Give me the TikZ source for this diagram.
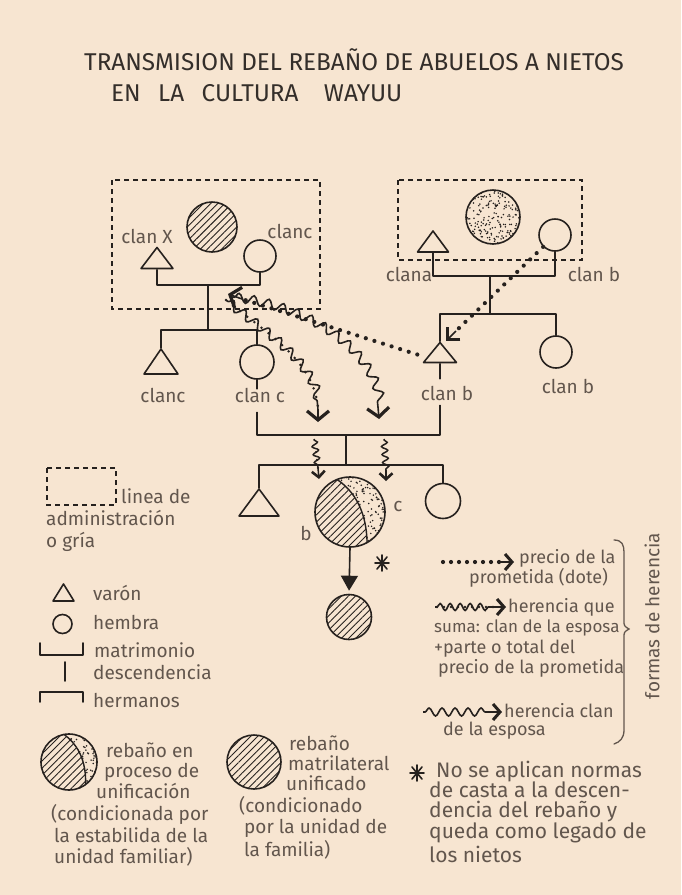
\documentclass[tikz,border=0pt]{standalone}
\usepackage{fontspec}
\setmainfont{Fira Sans}
\usetikzlibrary{arrows.meta,patterns.meta,decorations.pathmorphing,calc}
\definecolor{bg}{RGB}{247,229,209}
\definecolor{ink}{RGB}{38,33,30}
\definecolor{pencil}{RGB}{98,86,77}
\definecolor{titleink}{RGB}{52,46,42}
\newcommand\stip[4]{\foreach \k in {1,...,#4}{\fill[ink] ({#1+#3*rand},{#2+#3*rand}) circle (0.85);}}
\tikzset{
 conn/.style={draw=ink, line width=1.6pt, line join=round, line cap=round},
 fem/.style={circle, draw=ink, line width=1.6pt, inner sep=0pt, minimum size=32pt},
 male/.style={rectangle, inner sep=0pt, minimum width=34pt, minimum height=23pt,
   path picture={\draw[ink, line width=1.6pt, line join=round]
     ([shift={(1,-1)}]path picture bounding box.south west) --
     ([shift={(0,1)}]path picture bounding box.north) --
     ([shift={(-1,-1)}]path picture bounding box.south east) -- cycle;}},
 herd/.style={circle, draw=ink, line width=1.6pt, inner sep=0pt},
 hatch/.style={pattern={Lines[angle=45,distance=5pt,line width=0.9pt]}, pattern color=ink},
 lab/.style={text=pencil, font=\fontsize{19}{21}\selectfont, inner sep=1pt},
 labs/.style={text=pencil, font=\fontsize{18}{20}\selectfont, inner sep=1pt},
 labn/.style={text=pencil, font=\fontsize{21}{22}\selectfont, inner sep=1pt},
 titlef/.style={text=titleink, font=\fontsize{24.3}{28}\selectfont, inner sep=0pt},
 dotline/.style={draw=ink, line width=4.2pt, line cap=round, dash pattern=on 0pt off 9pt},
 smalldots/.style={draw=ink, line width=2.8pt, line cap=round, dash pattern=on 0pt off 9pt},
 wavy/.style={draw=ink, line width=1.6pt, decorate, decoration={snake, amplitude=4.5pt, segment length=15pt, pre length=2pt, post length=2pt}},
 wavysm/.style={draw=ink, line width=1.5pt, decorate, decoration={snake, amplitude=3pt, segment length=8pt, pre length=1pt, post length=1pt}},
 barb/.style={draw=ink, line width=1.6pt, -{Straight Barb[length=9pt, width=22pt, line width=3.2pt]}},
 barbl/.style={draw=ink, line width=1.6pt, -{Straight Barb[length=9pt, width=18pt, line width=3.2pt]}},
 sbarb/.style={draw=ink, line width=1.5pt, -{Straight Barb[length=6pt, width=13pt, line width=2.6pt]}},
 lbarb/.style={draw=ink, line width=1.5pt, -{Straight Barb[length=7pt, width=16pt, line width=3pt]}},
 admin/.style={draw=ink, line width=1.5pt, dash pattern=on 5pt off 4pt},
 astk/.pic={\draw[ink, line width=1.6pt, line cap=round] (-7,0) -- (7,0) (0,-8) -- (0,8) (-5,-6) -- (5,6) (-5,6) -- (5,-6);}
}
\begin{document}
\begin{tikzpicture}[x=1pt,y=-1pt]
\pgfmathsetseed{11}
\fill[bg] (0,0) rectangle (681,895);
\useasboundingbox (0,0) rectangle (681,895);

% title
\node[titlef, anchor=base west] (title1) at (84,70) {TRANSMISION DEL REBAÑO DE ABUELOS A NIETOS};
\node[titlef, anchor=base west] (title2) at (111,101) {EN\hspace{11pt} LA\hspace{11pt} CULTURA\hspace{19pt} WAYUU};

% administration boxes
\draw[admin] (112,180) rectangle (320,309);
\draw[admin] (398,180) rectangle (582,260);

% ---------- grandparents, left
\node[herd, hatch, minimum size=50pt] (hl) at (212,227) {};
\node[male, minimum width=34pt, minimum height=23pt] (m1) at (157,258) {};
\node[fem] (f1) at (260,256) {};
\node[lab, anchor=base] (lm1) at (147,243) {clan X};
\node[lab, anchor=base] (lf1) at (290,238) {clanc};
\coordinate (j1) at (208,285);
\coordinate (s1) at (208,330);
\draw[conn] (m1.south) |- (j1) -| (f1.south);
\draw[conn] (j1) -- (s1);
\node[male, minimum width=36pt, minimum height=27pt] (m2) at (161,361.5) {};
\node[fem, minimum size=34pt] (f2) at (257,362) {};
\draw[conn] (m2.north) |- (s1) -| (f2.north);
\node[lab, anchor=base] (lm2) at (163,402) {clanc};
\node[lab, anchor=base] (lf2) at (260,402) {clan c};

% ---------- grandparents, right
\begin{scope}
 \clip (493,217) circle (27);
 \stip{493}{217}{27}{210}
\end{scope}
\node[herd, minimum size=54pt] (hr) at (493,217) {};
\node[male, minimum width=33pt, minimum height=23pt] (m3) at (433,241.5) {};
\node[fem] (f3) at (555,235) {};
\node[lab, anchor=base] (lm3) at (409,281) {clana};
\node[lab, anchor=base] (lf3) at (594,281) {clan b};
\coordinate (j2) at (490,276);
\coordinate (s2) at (490,314);
\draw[conn] (m3.south) |- (j2) -| (f3.south);
\draw[conn] (j2) -- (s2);
\node[male, minimum width=35pt, minimum height=22pt] (m4) at (440,352.5) {};
\node[fem] (f4) at (556,352) {};
\draw[conn] (m4.north) |- (s2) -| (f4.north);
\node[lab, anchor=base] (lm4) at (447,400) {clan b};
\node[lab, anchor=base] (lf4) at (568,393) {clan b};

% ---------- parents' marriage
\coordinate (j3) at (346,435);
\draw[conn] (f2.south) -- ++(0,9);
\draw[conn] (m4.south) -- ++(0,15);
\coordinate (f2b) at ($(lf2.south -| f2.south)+(0,9)$);
\coordinate (m4b) at ($(lm4.south -| m4.south)+(0,4)$);
\draw[conn] (f2b) |- (j3) -| (m4b);
\coordinate (s3) at (346,465);
\draw[conn] (j3) -- (s3);

% ---------- grandchildren
\node[male, minimum width=42pt, minimum height=29pt] (m5) at (259,502.5) {};
\node[fem, minimum size=35pt] (f5) at (443,501) {};
\draw[conn] (m5.north) |- (s3) -| (f5.north);

% mixed herd
\begin{scope}
 \clip (350,512) circle (35);
 \fill[hatch] (333,477) .. controls (356,490) and (368,515) .. (367,548) -- (367,560) -- (300,560) -- (300,465) -- (333,465) -- cycle;
 \draw[ink, line width=1.4pt] (333,477) .. controls (356,490) and (368,515) .. (367,548);
 \clip (333,477) .. controls (356,490) and (368,515) .. (367,548) -- (367,560) -- (400,560) -- (400,465) -- (333,465) -- cycle;
 \stip{350}{512}{35}{300}
\end{scope}
\node[herd, minimum size=70pt] (hm) at (350,512) {};
\node[lab, anchor=base] (lb) at (306,540) {b};
\node[lab, anchor=base] (lc) at (398,511) {c};
\node[herd, hatch, minimum size=45pt] (hb) at (349,617) {};
\draw[conn, shorten >=3pt, -{Triangle[length=15pt, width=17pt]}] (hm.south) -- (hb.north);
\pic (a1) at (382,563) {astk};

% ---------- inheritance flows
\coordinate (w1s) at (226,300);
\coordinate (w1e) at (318,410);
\draw[wavy] (w1s) .. controls (262,330) and (316,360) .. (w1e);
\draw[smalldots] (w1s) .. controls (262,330) and (316,360) .. (w1e);
\draw[barb] (w1e) -- ++(0,12);
\coordinate (w2s) at (232,297);
\coordinate (w2e) at (378,407);
\draw[wavy] (w2s) .. controls (300,305) and (372,345) .. (w2e);
\draw[barb] (w2e) -- ++(1,12);

\coordinate (d1s) at ($(m4.west)+(-5,2)$);
\coordinate (d1e) at (242,299);
\draw[dotline] (d1s) -- (d1e);
\draw[barb] (d1e) -- (228,294);
\coordinate (d2e) at (456,331);
\draw[dotline] (f3.south west) -- (d2e);
\draw[barbl] (d2e) -- (446,341);

\coordinate (sw1s) at (314,439);
\coordinate (sw1e) at (318,468);
\draw[wavysm] (sw1s) -- (sw1e);
\draw[ink, line width=2.4pt, line cap=round, dash pattern=on 0pt off 8pt] (316,452) -- (318,468);
\draw[sbarb] (sw1e) -- ++(1,11);
\coordinate (sw2s) at (384,439);
\coordinate (sw2e) at (386,470);
\draw[wavysm] (sw2s) -- (sw2e);
\draw[sbarb] (sw2e) -- ++(0,11);

% ---------- legend left
\draw[admin] (47,468) rectangle (116,505);
\node[lab, anchor=base west] (L1) at (120,503) {linea de};
\node[lab, anchor=base west] (L2) at (45,525) {administración};
\node[lab, anchor=base west] (L3) at (45,547) {o gría};
\node[male, minimum width=23pt, minimum height=19pt] (Lm) at (63.5,592.5) {};
\node[fem, minimum size=19pt] (Lf) at (62.5,624) {};
\node[lab, anchor=base west] (L4) at (92,600) {varón};
\node[lab, anchor=base west] (L5) at (92,629) {hembra};
\draw[conn] (40,643) -- (40,655) -- (83,655) -- (83,643);
\node[lab, anchor=base west] (L6) at (93,657) {matrimonio};
\draw[conn] (65,662) -- (65,681);
\node[lab, anchor=base west] (L7) at (92,679) {descendencia};
\draw[conn] (40,702) -- (40,692) -- (83,692) -- (83,702);
\node[lab, anchor=base west] (L8) at (92,707) {hermanos};

% ---------- legend bottom
\begin{scope}
 \clip (69,762) circle (28);
 \fill[hatch] (62,733) .. controls (80,745) and (88,765) .. (85,792) -- (85,800) -- (30,800) -- (30,725) -- (62,725) -- cycle;
 \draw[ink, line width=1.4pt] (62,733) .. controls (80,745) and (88,765) .. (85,792);
 \clip (62,733) .. controls (80,745) and (88,765) .. (85,792) -- (85,800) -- (110,800) -- (110,725) -- (62,725) -- cycle;
 \stip{69}{762}{28}{200}
\end{scope}
\node[herd, minimum size=56pt] (Lhm) at (69,762) {};
\node[lab, anchor=base west] (B1) at (105,757) {rebaño en};
\node[lab, anchor=base west] (B2) at (103,777) {proceso de};
\node[lab, anchor=base west] (B3) at (95,798) {unificación};
\node[lab, anchor=base west] (B4) at (50,820) {(condicionada por};
\node[lab, anchor=base west] (B5) at (53,842) {la estabilida de la};
\node[lab, anchor=base west] (B6) at (53,863) {unidad familiar)};

\node[herd, hatch, minimum size=54pt] (Lhh) at (254,762) {};
\node[lab, anchor=base west] (C1) at (288,750) {rebaño};
\node[lab, anchor=base west] (C2) at (287,770) {matrilateral};
\node[lab, anchor=base west] (C3) at (285,790) {unificado};
\node[lab, anchor=base west] (C4) at (238,812) {(condicionado};
\node[lab, anchor=base west] (C5) at (243,833) {por la unidad de};
\node[lab, anchor=base west] (C6) at (243,856) {la familia)};

% ---------- legend right
\coordinate (Ld1s) at (443,562);
\coordinate (Ld1e) at (500,562);
\draw[dotline, dash pattern=on 0pt off 8pt] (Ld1s) -- (Ld1e);
\draw[lbarb] (Ld1e) -- (514,562);
\node[labs, anchor=base west] (R1) at (518,563) {precio de la};
\node[labs, anchor=base west] (R2) at (468,583) {prometida (dote)};
\coordinate (Lw1s) at (435,607);
\coordinate (Lw1e) at (494,607);
\draw[wavy, decoration={snake, amplitude=3.5pt, segment length=10pt}] (Lw1s) -- (Lw1e);
\draw[smalldots, dash pattern=on 0pt off 7pt] (437,607) -- (Lw1e);
\draw[lbarb] (Lw1e) -- (506,607);
\node[labs, anchor=base west] (R3) at (507,612) {herencia que};
\node[labs, anchor=base west, font=\fontsize{17}{20}\selectfont] (R4) at (433,632) {suma: clan de la esposa};
\node[labs, anchor=base west] (R5) at (433,653) {+parte o total del};
\node[labs, anchor=base west] (R6) at (437,673) {precio de la prometida};
\coordinate (Lw2s) at (423,712);
\coordinate (Lw2e) at (490,712);
\draw[wavy, decoration={snake, amplitude=4pt, segment length=13pt}] (Lw2s) -- (Lw2e);
\draw[lbarb] (Lw2e) -- (502,712);
\node[labs, anchor=base west] (R7) at (503,717) {herencia clan};
\node[labs, anchor=base west] (R8) at (442,735) {de la esposa};
\draw[draw=pencil, line width=1.3pt, line cap=round]
  (614,540) .. controls (622,540) and (624,545) .. (624,552) -- (624,620)
  .. controls (624,626) .. (629,629) .. controls (624,632) .. (624,638)
  -- (624,730) .. controls (624,738) and (620,742) .. (614,744);
\node[lab, rotate=90] (FH) at (652,616) {formas de herencia};

% ---------- note
\pic (a2) at (417,773) {astk};
\node[labn, anchor=base west] (N1) at (435,777) {No se aplican normas};
\node[labn, anchor=base west] (N2) at (428,797) {de casta a la descen-};
\node[labn, anchor=base west] (N3) at (428,817) {dencia del rebaño y};
\node[labn, anchor=base west] (N4) at (428,838) {queda como legado de};
\node[labn, anchor=base west] (N5) at (428,862) {los nietos};
\end{tikzpicture}
\end{document}
